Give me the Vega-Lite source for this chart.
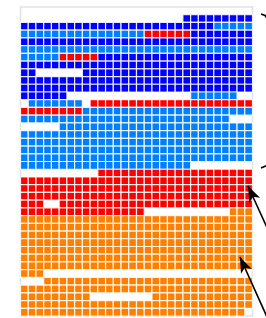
{
"$schema": "https://vega.github.io/schema/vega-lite/v6.json",
"width": 232, "height": 309,
"autosize": "none",
"padding": {"left": 20.5, "top": 7, "right": 13.5, "bottom": 2},
"background": "white",
"config": {"view": {"stroke": "#e2e2e2", "strokeWidth": 1.5}},
"datasets": {
"ann": [
{"g":"t","x":31.1,"y":0.91,"o":0},{"g":"t","x":31.62,"y":1.1,"o":1},{"g":"t","x":31.8,"y":1.35,"o":2},
{"g":"b","x":31.1,"y":20.84,"o":0},{"g":"b","x":31.8,"y":20.55,"o":1},
{"g":"a1","x":29.42,"y":23.17,"o":0},{"g":"a1","x":31.9,"y":28.6,"o":1},
{"g":"a2","x":28.38,"y":32.36,"o":0},{"g":"a2","x":31.95,"y":40.3,"o":1}
],
"heads": [
{"x":29.42,"y":23.17,"a":335},
{"x":28.38,"y":32.36,"a":336}
],
"cells": [
{"r":1,"c":21,"k":"a"},{"r":1,"c":22,"k":"a"},{"r":1,"c":23,"k":"a"},{"r":1,"c":24,"k":"a"},{"r":1,"c":25,"k":"a"},{"r":1,"c":26,"k":"a"},{"r":1,"c":27,"k":"a"},{"r":1,"c":28,"k":"a"},{"r":1,"c":29,"k":"a"},
{"r":2,"c":0,"k":"a"},{"r":2,"c":1,"k":"a"},{"r":2,"c":2,"k":"a"},{"r":2,"c":3,"k":"a"},{"r":2,"c":4,"k":"a"},{"r":2,"c":5,"k":"a"},{"r":2,"c":6,"k":"a"},{"r":2,"c":7,"k":"a"},{"r":2,"c":8,"k":"a"},{"r":2,"c":9,"k":"a"},{"r":2,"c":10,"k":"a"},{"r":2,"c":11,"k":"a"},{"r":2,"c":12,"k":"a"},{"r":2,"c":13,"k":"a"},{"r":2,"c":14,"k":"a"},{"r":2,"c":15,"k":"a"},{"r":2,"c":16,"k":"a"},{"r":2,"c":17,"k":"a"},{"r":2,"c":18,"k":"a"},{"r":2,"c":19,"k":"a"},{"r":2,"c":20,"k":"a"},{"r":2,"c":21,"k":"a"},{"r":2,"c":22,"k":"a"},{"r":2,"c":23,"k":"a"},{"r":2,"c":24,"k":"a"},{"r":2,"c":25,"k":"b"},{"r":2,"c":26,"k":"b"},{"r":2,"c":27,"k":"b"},{"r":2,"c":28,"k":"b"},{"r":2,"c":29,"k":"b"},
{"r":3,"c":0,"k":"b"},{"r":3,"c":1,"k":"b"},{"r":3,"c":2,"k":"b"},{"r":3,"c":3,"k":"b"},{"r":3,"c":4,"k":"b"},{"r":3,"c":5,"k":"b"},{"r":3,"c":6,"k":"b"},{"r":3,"c":7,"k":"b"},{"r":3,"c":8,"k":"b"},{"r":3,"c":9,"k":"b"},{"r":3,"c":10,"k":"b"},{"r":3,"c":11,"k":"b"},{"r":3,"c":12,"k":"b"},{"r":3,"c":13,"k":"b"},{"r":3,"c":14,"k":"b"},{"r":3,"c":15,"k":"b"},{"r":3,"c":16,"k":"c"},{"r":3,"c":17,"k":"c"},{"r":3,"c":18,"k":"c"},{"r":3,"c":19,"k":"c"},{"r":3,"c":20,"k":"c"},{"r":3,"c":21,"k":"c"},{"r":3,"c":22,"k":"a"},{"r":3,"c":23,"k":"a"},{"r":3,"c":24,"k":"a"},{"r":3,"c":25,"k":"a"},{"r":3,"c":26,"k":"a"},{"r":3,"c":27,"k":"a"},{"r":3,"c":28,"k":"a"},{"r":3,"c":29,"k":"a"},
{"r":4,"c":0,"k":"a"},{"r":4,"c":1,"k":"a"},{"r":4,"c":2,"k":"a"},{"r":4,"c":3,"k":"a"},{"r":4,"c":4,"k":"a"},{"r":4,"c":5,"k":"a"},{"r":4,"c":6,"k":"a"},{"r":4,"c":7,"k":"a"},{"r":4,"c":8,"k":"a"},{"r":4,"c":9,"k":"a"},{"r":4,"c":10,"k":"a"},{"r":4,"c":11,"k":"a"},{"r":4,"c":12,"k":"a"},{"r":4,"c":13,"k":"a"},{"r":4,"c":14,"k":"a"},{"r":4,"c":15,"k":"a"},{"r":4,"c":16,"k":"a"},{"r":4,"c":17,"k":"a"},{"r":4,"c":18,"k":"a"},{"r":4,"c":19,"k":"a"},{"r":4,"c":20,"k":"a"},{"r":4,"c":21,"k":"a"},{"r":4,"c":22,"k":"a"},{"r":4,"c":23,"k":"a"},{"r":4,"c":24,"k":"a"},{"r":4,"c":25,"k":"a"},{"r":4,"c":26,"k":"a"},{"r":4,"c":27,"k":"a"},{"r":4,"c":28,"k":"a"},{"r":4,"c":29,"k":"a"},
{"r":5,"c":0,"k":"b"},{"r":5,"c":1,"k":"b"},{"r":5,"c":2,"k":"b"},{"r":5,"c":3,"k":"b"},{"r":5,"c":4,"k":"b"},{"r":5,"c":5,"k":"b"},{"r":5,"c":6,"k":"b"},{"r":5,"c":7,"k":"b"},{"r":5,"c":8,"k":"b"},{"r":5,"c":9,"k":"b"},{"r":5,"c":10,"k":"b"},{"r":5,"c":11,"k":"b"},{"r":5,"c":12,"k":"b"},{"r":5,"c":13,"k":"b"},{"r":5,"c":14,"k":"b"},{"r":5,"c":15,"k":"b"},{"r":5,"c":16,"k":"b"},{"r":5,"c":17,"k":"b"},{"r":5,"c":18,"k":"b"},{"r":5,"c":19,"k":"b"},{"r":5,"c":20,"k":"b"},{"r":5,"c":21,"k":"b"},{"r":5,"c":22,"k":"b"},{"r":5,"c":23,"k":"b"},{"r":5,"c":24,"k":"b"},{"r":5,"c":25,"k":"b"},{"r":5,"c":26,"k":"b"},{"r":5,"c":27,"k":"b"},{"r":5,"c":28,"k":"b"},{"r":5,"c":29,"k":"b"},
{"r":6,"c":0,"k":"b"},{"r":6,"c":1,"k":"b"},{"r":6,"c":2,"k":"b"},{"r":6,"c":3,"k":"b"},{"r":6,"c":4,"k":"b"},{"r":6,"c":5,"k":"c"},{"r":6,"c":6,"k":"c"},{"r":6,"c":7,"k":"c"},{"r":6,"c":8,"k":"c"},{"r":6,"c":9,"k":"c"},{"r":6,"c":10,"k":"a"},{"r":6,"c":11,"k":"a"},{"r":6,"c":12,"k":"a"},{"r":6,"c":13,"k":"a"},{"r":6,"c":14,"k":"a"},{"r":6,"c":15,"k":"a"},{"r":6,"c":16,"k":"a"},{"r":6,"c":17,"k":"a"},{"r":6,"c":18,"k":"a"},{"r":6,"c":19,"k":"a"},{"r":6,"c":20,"k":"a"},{"r":6,"c":21,"k":"a"},{"r":6,"c":22,"k":"a"},{"r":6,"c":23,"k":"a"},{"r":6,"c":24,"k":"a"},{"r":6,"c":25,"k":"a"},{"r":6,"c":26,"k":"a"},{"r":6,"c":27,"k":"a"},{"r":6,"c":28,"k":"a"},{"r":6,"c":29,"k":"a"},
{"r":7,"c":0,"k":"a"},{"r":7,"c":1,"k":"a"},{"r":7,"c":2,"k":"a"},{"r":7,"c":3,"k":"a"},{"r":7,"c":4,"k":"a"},{"r":7,"c":5,"k":"a"},{"r":7,"c":6,"k":"a"},{"r":7,"c":7,"k":"a"},{"r":7,"c":8,"k":"a"},{"r":7,"c":9,"k":"a"},{"r":7,"c":10,"k":"a"},{"r":7,"c":11,"k":"a"},{"r":7,"c":12,"k":"a"},{"r":7,"c":13,"k":"a"},{"r":7,"c":14,"k":"a"},{"r":7,"c":15,"k":"a"},{"r":7,"c":16,"k":"a"},{"r":7,"c":17,"k":"a"},{"r":7,"c":18,"k":"a"},{"r":7,"c":19,"k":"a"},{"r":7,"c":20,"k":"a"},{"r":7,"c":21,"k":"a"},{"r":7,"c":22,"k":"a"},{"r":7,"c":23,"k":"a"},{"r":7,"c":24,"k":"a"},{"r":7,"c":25,"k":"a"},{"r":7,"c":26,"k":"a"},{"r":7,"c":27,"k":"a"},{"r":7,"c":28,"k":"a"},{"r":7,"c":29,"k":"a"},
{"r":8,"c":0,"k":"a"},{"r":8,"c":1,"k":"a"},{"r":8,"c":8,"k":"a"},{"r":8,"c":9,"k":"a"},{"r":8,"c":10,"k":"a"},{"r":8,"c":11,"k":"a"},{"r":8,"c":12,"k":"a"},{"r":8,"c":13,"k":"a"},{"r":8,"c":14,"k":"a"},{"r":8,"c":15,"k":"a"},{"r":8,"c":16,"k":"a"},{"r":8,"c":17,"k":"a"},{"r":8,"c":18,"k":"a"},{"r":8,"c":19,"k":"a"},{"r":8,"c":20,"k":"a"},{"r":8,"c":21,"k":"a"},{"r":8,"c":22,"k":"a"},{"r":8,"c":23,"k":"a"},{"r":8,"c":24,"k":"a"},{"r":8,"c":25,"k":"a"},{"r":8,"c":26,"k":"a"},{"r":8,"c":27,"k":"a"},{"r":8,"c":28,"k":"a"},{"r":8,"c":29,"k":"a"},
{"r":9,"c":0,"k":"a"},{"r":9,"c":1,"k":"a"},{"r":9,"c":2,"k":"a"},{"r":9,"c":3,"k":"a"},{"r":9,"c":4,"k":"a"},{"r":9,"c":5,"k":"a"},{"r":9,"c":6,"k":"a"},{"r":9,"c":7,"k":"a"},{"r":9,"c":8,"k":"a"},{"r":9,"c":9,"k":"a"},{"r":9,"c":10,"k":"a"},{"r":9,"c":11,"k":"a"},{"r":9,"c":12,"k":"a"},{"r":9,"c":13,"k":"a"},{"r":9,"c":14,"k":"a"},{"r":9,"c":15,"k":"a"},{"r":9,"c":16,"k":"a"},{"r":9,"c":17,"k":"a"},{"r":9,"c":18,"k":"a"},{"r":9,"c":19,"k":"a"},{"r":9,"c":20,"k":"a"},{"r":9,"c":21,"k":"a"},{"r":9,"c":22,"k":"a"},{"r":9,"c":23,"k":"a"},{"r":9,"c":24,"k":"a"},{"r":9,"c":25,"k":"a"},{"r":9,"c":26,"k":"a"},{"r":9,"c":27,"k":"a"},{"r":9,"c":28,"k":"a"},{"r":9,"c":29,"k":"a"},
{"r":10,"c":0,"k":"a"},{"r":10,"c":1,"k":"a"},{"r":10,"c":2,"k":"a"},{"r":10,"c":3,"k":"a"},{"r":10,"c":4,"k":"a"},{"r":10,"c":5,"k":"a"},{"r":10,"c":6,"k":"a"},{"r":10,"c":7,"k":"a"},{"r":10,"c":8,"k":"a"},{"r":10,"c":9,"k":"a"},{"r":10,"c":10,"k":"a"},{"r":10,"c":11,"k":"a"},{"r":10,"c":12,"k":"a"},{"r":10,"c":13,"k":"a"},{"r":10,"c":14,"k":"a"},{"r":10,"c":15,"k":"a"},{"r":10,"c":16,"k":"a"},{"r":10,"c":17,"k":"a"},{"r":10,"c":18,"k":"a"},{"r":10,"c":19,"k":"a"},{"r":10,"c":20,"k":"a"},{"r":10,"c":21,"k":"a"},{"r":10,"c":22,"k":"a"},{"r":10,"c":23,"k":"a"},{"r":10,"c":24,"k":"a"},{"r":10,"c":25,"k":"a"},{"r":10,"c":26,"k":"a"},{"r":10,"c":27,"k":"a"},{"r":10,"c":28,"k":"a"},{"r":10,"c":29,"k":"a"},
{"r":11,"c":0,"k":"a"},{"r":11,"c":1,"k":"a"},{"r":11,"c":2,"k":"a"},{"r":11,"c":3,"k":"a"},{"r":11,"c":4,"k":"a"},{"r":11,"c":5,"k":"a"},{"r":11,"c":22,"k":"b"},{"r":11,"c":23,"k":"b"},{"r":11,"c":24,"k":"b"},{"r":11,"c":25,"k":"b"},{"r":11,"c":26,"k":"b"},{"r":11,"c":27,"k":"b"},
{"r":12,"c":1,"k":"b"},{"r":12,"c":2,"k":"b"},{"r":12,"c":3,"k":"b"},{"r":12,"c":4,"k":"b"},{"r":12,"c":5,"k":"b"},{"r":12,"c":6,"k":"b"},{"r":12,"c":7,"k":"b"},{"r":12,"c":9,"k":"c"},{"r":12,"c":10,"k":"c"},{"r":12,"c":11,"k":"c"},{"r":12,"c":12,"k":"c"},{"r":12,"c":13,"k":"c"},{"r":12,"c":14,"k":"c"},{"r":12,"c":15,"k":"c"},{"r":12,"c":16,"k":"c"},{"r":12,"c":17,"k":"c"},{"r":12,"c":18,"k":"c"},{"r":12,"c":19,"k":"c"},{"r":12,"c":20,"k":"c"},{"r":12,"c":21,"k":"c"},{"r":12,"c":22,"k":"c"},{"r":12,"c":23,"k":"c"},{"r":12,"c":24,"k":"c"},{"r":12,"c":25,"k":"c"},{"r":12,"c":26,"k":"c"},{"r":12,"c":27,"k":"c"},{"r":12,"c":28,"k":"c"},{"r":12,"c":29,"k":"c"},
{"r":13,"c":0,"k":"c"},{"r":13,"c":1,"k":"c"},{"r":13,"c":2,"k":"c"},{"r":13,"c":3,"k":"c"},{"r":13,"c":4,"k":"c"},{"r":13,"c":5,"k":"c"},{"r":13,"c":6,"k":"c"},{"r":13,"c":7,"k":"c"},{"r":13,"c":8,"k":"b"},{"r":13,"c":9,"k":"b"},{"r":13,"c":10,"k":"b"},{"r":13,"c":11,"k":"b"},{"r":13,"c":12,"k":"b"},{"r":13,"c":13,"k":"b"},{"r":13,"c":14,"k":"b"},{"r":13,"c":15,"k":"b"},{"r":13,"c":16,"k":"b"},{"r":13,"c":17,"k":"b"},{"r":13,"c":18,"k":"b"},{"r":13,"c":19,"k":"b"},{"r":13,"c":20,"k":"b"},{"r":13,"c":21,"k":"b"},{"r":13,"c":22,"k":"b"},{"r":13,"c":23,"k":"b"},{"r":13,"c":24,"k":"b"},{"r":13,"c":25,"k":"b"},{"r":13,"c":26,"k":"b"},{"r":13,"c":27,"k":"b"},{"r":13,"c":28,"k":"b"},{"r":13,"c":29,"k":"b"},
{"r":14,"c":0,"k":"b"},{"r":14,"c":1,"k":"b"},{"r":14,"c":2,"k":"b"},{"r":14,"c":3,"k":"b"},{"r":14,"c":4,"k":"b"},{"r":14,"c":5,"k":"b"},{"r":14,"c":6,"k":"b"},{"r":14,"c":7,"k":"b"},{"r":14,"c":8,"k":"b"},{"r":14,"c":9,"k":"b"},{"r":14,"c":10,"k":"b"},{"r":14,"c":11,"k":"b"},{"r":14,"c":12,"k":"b"},{"r":14,"c":13,"k":"b"},{"r":14,"c":14,"k":"b"},{"r":14,"c":15,"k":"b"},{"r":14,"c":16,"k":"b"},{"r":14,"c":17,"k":"b"},{"r":14,"c":18,"k":"b"},{"r":14,"c":19,"k":"b"},{"r":14,"c":20,"k":"b"},{"r":14,"c":21,"k":"b"},{"r":14,"c":22,"k":"b"},{"r":14,"c":23,"k":"b"},{"r":14,"c":24,"k":"b"},{"r":14,"c":25,"k":"b"},{"r":14,"c":26,"k":"b"},
{"r":15,"c":5,"k":"b"},{"r":15,"c":6,"k":"b"},{"r":15,"c":7,"k":"b"},{"r":15,"c":8,"k":"b"},{"r":15,"c":9,"k":"b"},{"r":15,"c":10,"k":"b"},{"r":15,"c":11,"k":"b"},{"r":15,"c":12,"k":"b"},{"r":15,"c":13,"k":"b"},{"r":15,"c":14,"k":"b"},{"r":15,"c":15,"k":"b"},{"r":15,"c":16,"k":"b"},{"r":15,"c":17,"k":"b"},{"r":15,"c":18,"k":"b"},{"r":15,"c":19,"k":"b"},{"r":15,"c":20,"k":"b"},{"r":15,"c":21,"k":"b"},{"r":15,"c":22,"k":"b"},{"r":15,"c":23,"k":"b"},{"r":15,"c":24,"k":"b"},{"r":15,"c":25,"k":"b"},{"r":15,"c":26,"k":"b"},{"r":15,"c":27,"k":"b"},{"r":15,"c":28,"k":"b"},{"r":15,"c":29,"k":"b"},
{"r":16,"c":0,"k":"b"},{"r":16,"c":1,"k":"b"},{"r":16,"c":2,"k":"b"},{"r":16,"c":3,"k":"b"},{"r":16,"c":4,"k":"b"},{"r":16,"c":5,"k":"b"},{"r":16,"c":6,"k":"b"},{"r":16,"c":7,"k":"b"},{"r":16,"c":8,"k":"b"},{"r":16,"c":9,"k":"b"},{"r":16,"c":10,"k":"b"},{"r":16,"c":11,"k":"b"},{"r":16,"c":12,"k":"b"},{"r":16,"c":13,"k":"b"},{"r":16,"c":14,"k":"b"},{"r":16,"c":15,"k":"b"},{"r":16,"c":16,"k":"b"},{"r":16,"c":17,"k":"b"},{"r":16,"c":18,"k":"b"},{"r":16,"c":19,"k":"b"},{"r":16,"c":20,"k":"b"},{"r":16,"c":21,"k":"b"},{"r":16,"c":22,"k":"b"},{"r":16,"c":23,"k":"b"},{"r":16,"c":24,"k":"b"},{"r":16,"c":25,"k":"b"},{"r":16,"c":26,"k":"b"},{"r":16,"c":27,"k":"b"},{"r":16,"c":28,"k":"b"},{"r":16,"c":29,"k":"b"},
{"r":17,"c":0,"k":"b"},{"r":17,"c":1,"k":"b"},{"r":17,"c":2,"k":"b"},{"r":17,"c":3,"k":"b"},{"r":17,"c":4,"k":"b"},{"r":17,"c":5,"k":"b"},{"r":17,"c":6,"k":"b"},{"r":17,"c":7,"k":"b"},{"r":17,"c":8,"k":"b"},{"r":17,"c":9,"k":"b"},{"r":17,"c":10,"k":"b"},{"r":17,"c":11,"k":"b"},{"r":17,"c":12,"k":"b"},{"r":17,"c":13,"k":"b"},{"r":17,"c":14,"k":"b"},{"r":17,"c":15,"k":"b"},{"r":17,"c":16,"k":"b"},{"r":17,"c":17,"k":"b"},{"r":17,"c":18,"k":"b"},{"r":17,"c":19,"k":"b"},{"r":17,"c":20,"k":"b"},{"r":17,"c":21,"k":"b"},{"r":17,"c":22,"k":"b"},{"r":17,"c":23,"k":"b"},{"r":17,"c":24,"k":"b"},{"r":17,"c":25,"k":"b"},{"r":17,"c":26,"k":"b"},{"r":17,"c":27,"k":"b"},{"r":17,"c":28,"k":"b"},{"r":17,"c":29,"k":"b"},
{"r":18,"c":0,"k":"b"},{"r":18,"c":1,"k":"b"},{"r":18,"c":2,"k":"b"},{"r":18,"c":3,"k":"b"},{"r":18,"c":4,"k":"b"},{"r":18,"c":5,"k":"b"},{"r":18,"c":6,"k":"b"},{"r":18,"c":7,"k":"b"},{"r":18,"c":8,"k":"b"},{"r":18,"c":9,"k":"b"},{"r":18,"c":10,"k":"b"},{"r":18,"c":11,"k":"b"},{"r":18,"c":12,"k":"b"},{"r":18,"c":13,"k":"b"},{"r":18,"c":14,"k":"b"},{"r":18,"c":15,"k":"b"},{"r":18,"c":16,"k":"b"},{"r":18,"c":17,"k":"b"},{"r":18,"c":18,"k":"b"},{"r":18,"c":19,"k":"b"},{"r":18,"c":20,"k":"b"},{"r":18,"c":21,"k":"b"},{"r":18,"c":22,"k":"b"},{"r":18,"c":23,"k":"b"},{"r":18,"c":24,"k":"b"},{"r":18,"c":25,"k":"b"},{"r":18,"c":26,"k":"b"},{"r":18,"c":27,"k":"b"},{"r":18,"c":28,"k":"b"},{"r":18,"c":29,"k":"b"},
{"r":19,"c":0,"k":"b"},{"r":19,"c":1,"k":"b"},{"r":19,"c":2,"k":"b"},{"r":19,"c":3,"k":"b"},{"r":19,"c":4,"k":"b"},{"r":19,"c":5,"k":"b"},{"r":19,"c":6,"k":"b"},{"r":19,"c":7,"k":"b"},{"r":19,"c":8,"k":"b"},{"r":19,"c":9,"k":"b"},{"r":19,"c":10,"k":"b"},{"r":19,"c":11,"k":"b"},{"r":19,"c":12,"k":"b"},{"r":19,"c":13,"k":"b"},{"r":19,"c":14,"k":"b"},{"r":19,"c":15,"k":"b"},{"r":19,"c":16,"k":"b"},{"r":19,"c":17,"k":"b"},{"r":19,"c":18,"k":"b"},{"r":19,"c":19,"k":"b"},{"r":19,"c":20,"k":"b"},{"r":19,"c":21,"k":"b"},{"r":19,"c":22,"k":"b"},{"r":19,"c":23,"k":"b"},{"r":19,"c":24,"k":"b"},{"r":19,"c":25,"k":"b"},{"r":19,"c":26,"k":"b"},{"r":19,"c":27,"k":"b"},{"r":19,"c":28,"k":"b"},{"r":19,"c":29,"k":"b"},
{"r":20,"c":0,"k":"b"},{"r":20,"c":1,"k":"b"},{"r":20,"c":2,"k":"b"},{"r":20,"c":3,"k":"b"},{"r":20,"c":4,"k":"b"},{"r":20,"c":5,"k":"b"},{"r":20,"c":6,"k":"b"},{"r":20,"c":7,"k":"b"},{"r":20,"c":8,"k":"b"},{"r":20,"c":9,"k":"b"},{"r":20,"c":10,"k":"b"},{"r":20,"c":11,"k":"b"},{"r":20,"c":12,"k":"b"},{"r":20,"c":13,"k":"b"},{"r":20,"c":14,"k":"b"},{"r":20,"c":15,"k":"b"},{"r":20,"c":16,"k":"b"},{"r":20,"c":17,"k":"b"},{"r":20,"c":18,"k":"b"},{"r":20,"c":19,"k":"b"},{"r":20,"c":20,"k":"b"},{"r":20,"c":21,"k":"b"},
{"r":21,"c":10,"k":"c"},{"r":21,"c":11,"k":"c"},{"r":21,"c":12,"k":"c"},{"r":21,"c":13,"k":"c"},{"r":21,"c":14,"k":"c"},{"r":21,"c":15,"k":"c"},{"r":21,"c":16,"k":"c"},{"r":21,"c":17,"k":"c"},{"r":21,"c":18,"k":"c"},{"r":21,"c":19,"k":"c"},{"r":21,"c":20,"k":"c"},{"r":21,"c":21,"k":"c"},{"r":21,"c":22,"k":"c"},{"r":21,"c":23,"k":"c"},{"r":21,"c":24,"k":"c"},{"r":21,"c":25,"k":"c"},{"r":21,"c":26,"k":"c"},{"r":21,"c":27,"k":"c"},{"r":21,"c":28,"k":"c"},{"r":21,"c":29,"k":"c"},
{"r":22,"c":0,"k":"c"},{"r":22,"c":1,"k":"c"},{"r":22,"c":2,"k":"c"},{"r":22,"c":3,"k":"c"},{"r":22,"c":4,"k":"c"},{"r":22,"c":5,"k":"c"},{"r":22,"c":6,"k":"c"},{"r":22,"c":7,"k":"c"},{"r":22,"c":8,"k":"c"},{"r":22,"c":9,"k":"c"},{"r":22,"c":10,"k":"c"},{"r":22,"c":11,"k":"c"},{"r":22,"c":12,"k":"c"},{"r":22,"c":13,"k":"c"},{"r":22,"c":14,"k":"c"},{"r":22,"c":15,"k":"c"},{"r":22,"c":16,"k":"c"},{"r":22,"c":17,"k":"c"},{"r":22,"c":18,"k":"c"},{"r":22,"c":19,"k":"c"},{"r":22,"c":20,"k":"c"},{"r":22,"c":21,"k":"c"},{"r":22,"c":22,"k":"c"},{"r":22,"c":23,"k":"c"},{"r":22,"c":24,"k":"c"},{"r":22,"c":25,"k":"c"},{"r":22,"c":26,"k":"c"},{"r":22,"c":27,"k":"c"},{"r":22,"c":28,"k":"c"},{"r":22,"c":29,"k":"c"},
{"r":23,"c":0,"k":"c"},{"r":23,"c":1,"k":"c"},{"r":23,"c":2,"k":"c"},{"r":23,"c":3,"k":"c"},{"r":23,"c":4,"k":"c"},{"r":23,"c":5,"k":"c"},{"r":23,"c":6,"k":"c"},{"r":23,"c":7,"k":"c"},{"r":23,"c":8,"k":"c"},{"r":23,"c":9,"k":"c"},{"r":23,"c":10,"k":"c"},{"r":23,"c":11,"k":"c"},{"r":23,"c":12,"k":"c"},{"r":23,"c":13,"k":"c"},{"r":23,"c":14,"k":"c"},{"r":23,"c":15,"k":"c"},{"r":23,"c":16,"k":"c"},{"r":23,"c":17,"k":"c"},{"r":23,"c":18,"k":"c"},{"r":23,"c":19,"k":"c"},{"r":23,"c":20,"k":"c"},{"r":23,"c":21,"k":"c"},{"r":23,"c":22,"k":"c"},{"r":23,"c":23,"k":"c"},{"r":23,"c":24,"k":"c"},{"r":23,"c":25,"k":"c"},{"r":23,"c":26,"k":"c"},{"r":23,"c":27,"k":"c"},{"r":23,"c":28,"k":"c"},{"r":23,"c":29,"k":"c"},
{"r":24,"c":0,"k":"c"},{"r":24,"c":1,"k":"c"},{"r":24,"c":2,"k":"c"},{"r":24,"c":3,"k":"c"},{"r":24,"c":4,"k":"c"},{"r":24,"c":5,"k":"c"},{"r":24,"c":6,"k":"c"},{"r":24,"c":7,"k":"c"},{"r":24,"c":8,"k":"c"},{"r":24,"c":9,"k":"c"},{"r":24,"c":10,"k":"c"},{"r":24,"c":11,"k":"c"},{"r":24,"c":12,"k":"c"},{"r":24,"c":13,"k":"c"},{"r":24,"c":14,"k":"c"},{"r":24,"c":15,"k":"c"},{"r":24,"c":16,"k":"c"},{"r":24,"c":17,"k":"c"},{"r":24,"c":18,"k":"c"},{"r":24,"c":19,"k":"c"},{"r":24,"c":20,"k":"c"},{"r":24,"c":21,"k":"c"},{"r":24,"c":22,"k":"c"},{"r":24,"c":23,"k":"c"},{"r":24,"c":24,"k":"c"},{"r":24,"c":25,"k":"c"},{"r":24,"c":26,"k":"c"},{"r":24,"c":27,"k":"c"},{"r":24,"c":28,"k":"c"},{"r":24,"c":29,"k":"c"},
{"r":25,"c":0,"k":"c"},{"r":25,"c":1,"k":"c"},{"r":25,"c":2,"k":"c"},{"r":25,"c":5,"k":"c"},{"r":25,"c":6,"k":"c"},{"r":25,"c":7,"k":"c"},{"r":25,"c":8,"k":"c"},{"r":25,"c":9,"k":"c"},{"r":25,"c":10,"k":"c"},{"r":25,"c":11,"k":"c"},{"r":25,"c":12,"k":"c"},{"r":25,"c":13,"k":"c"},{"r":25,"c":14,"k":"c"},{"r":25,"c":15,"k":"c"},{"r":25,"c":16,"k":"c"},{"r":25,"c":17,"k":"c"},{"r":25,"c":18,"k":"c"},{"r":25,"c":19,"k":"c"},{"r":25,"c":20,"k":"c"},{"r":25,"c":21,"k":"c"},{"r":25,"c":22,"k":"c"},{"r":25,"c":23,"k":"c"},{"r":25,"c":24,"k":"c"},{"r":25,"c":25,"k":"c"},{"r":25,"c":26,"k":"c"},{"r":25,"c":27,"k":"c"},{"r":25,"c":28,"k":"c"},{"r":25,"c":29,"k":"c"},
{"r":26,"c":0,"k":"c"},{"r":26,"c":1,"k":"c"},{"r":26,"c":2,"k":"c"},{"r":26,"c":3,"k":"c"},{"r":26,"c":4,"k":"c"},{"r":26,"c":5,"k":"c"},{"r":26,"c":6,"k":"c"},{"r":26,"c":7,"k":"c"},{"r":26,"c":8,"k":"c"},{"r":26,"c":9,"k":"c"},{"r":26,"c":10,"k":"c"},{"r":26,"c":11,"k":"c"},{"r":26,"c":12,"k":"c"},{"r":26,"c":13,"k":"c"},{"r":26,"c":14,"k":"c"},{"r":26,"c":15,"k":"c"},{"r":26,"c":27,"k":"d"},{"r":26,"c":28,"k":"d"},{"r":26,"c":29,"k":"d"},
{"r":27,"c":0,"k":"d"},{"r":27,"c":1,"k":"d"},{"r":27,"c":2,"k":"d"},{"r":27,"c":3,"k":"d"},{"r":27,"c":4,"k":"d"},{"r":27,"c":5,"k":"d"},{"r":27,"c":6,"k":"d"},{"r":27,"c":7,"k":"d"},{"r":27,"c":8,"k":"d"},{"r":27,"c":9,"k":"d"},{"r":27,"c":10,"k":"d"},{"r":27,"c":11,"k":"d"},{"r":27,"c":12,"k":"d"},{"r":27,"c":13,"k":"d"},{"r":27,"c":14,"k":"d"},{"r":27,"c":15,"k":"d"},{"r":27,"c":16,"k":"d"},{"r":27,"c":17,"k":"d"},{"r":27,"c":18,"k":"d"},{"r":27,"c":19,"k":"d"},{"r":27,"c":20,"k":"d"},{"r":27,"c":21,"k":"d"},{"r":27,"c":22,"k":"d"},{"r":27,"c":23,"k":"d"},{"r":27,"c":24,"k":"d"},{"r":27,"c":25,"k":"d"},{"r":27,"c":26,"k":"d"},{"r":27,"c":27,"k":"d"},{"r":27,"c":28,"k":"d"},{"r":27,"c":29,"k":"d"},
{"r":28,"c":0,"k":"d"},{"r":28,"c":1,"k":"d"},{"r":28,"c":2,"k":"d"},{"r":28,"c":3,"k":"d"},{"r":28,"c":4,"k":"d"},{"r":28,"c":5,"k":"d"},{"r":28,"c":6,"k":"d"},{"r":28,"c":7,"k":"d"},{"r":28,"c":8,"k":"d"},{"r":28,"c":9,"k":"d"},{"r":28,"c":10,"k":"d"},{"r":28,"c":11,"k":"d"},{"r":28,"c":12,"k":"d"},{"r":28,"c":13,"k":"d"},{"r":28,"c":14,"k":"d"},{"r":28,"c":15,"k":"d"},{"r":28,"c":16,"k":"d"},{"r":28,"c":17,"k":"d"},{"r":28,"c":18,"k":"d"},{"r":28,"c":19,"k":"d"},{"r":28,"c":20,"k":"d"},{"r":28,"c":21,"k":"d"},{"r":28,"c":22,"k":"d"},{"r":28,"c":23,"k":"d"},{"r":28,"c":24,"k":"d"},{"r":28,"c":25,"k":"d"},{"r":28,"c":26,"k":"d"},{"r":28,"c":27,"k":"d"},{"r":28,"c":28,"k":"d"},{"r":28,"c":29,"k":"d"},
{"r":29,"c":0,"k":"d"},{"r":29,"c":1,"k":"d"},{"r":29,"c":2,"k":"d"},{"r":29,"c":3,"k":"d"},{"r":29,"c":4,"k":"d"},{"r":29,"c":5,"k":"d"},{"r":29,"c":6,"k":"d"},{"r":29,"c":7,"k":"d"},{"r":29,"c":8,"k":"d"},{"r":29,"c":9,"k":"d"},{"r":29,"c":10,"k":"d"},{"r":29,"c":11,"k":"d"},{"r":29,"c":12,"k":"d"},{"r":29,"c":13,"k":"d"},{"r":29,"c":14,"k":"d"},{"r":29,"c":15,"k":"d"},{"r":29,"c":16,"k":"d"},{"r":29,"c":17,"k":"d"},{"r":29,"c":18,"k":"d"},{"r":29,"c":19,"k":"d"},{"r":29,"c":20,"k":"d"},{"r":29,"c":21,"k":"d"},{"r":29,"c":22,"k":"d"},{"r":29,"c":23,"k":"d"},{"r":29,"c":24,"k":"d"},{"r":29,"c":25,"k":"d"},{"r":29,"c":26,"k":"d"},{"r":29,"c":27,"k":"d"},{"r":29,"c":28,"k":"d"},{"r":29,"c":29,"k":"d"},
{"r":30,"c":0,"k":"d"},{"r":30,"c":1,"k":"d"},{"r":30,"c":2,"k":"d"},{"r":30,"c":3,"k":"d"},{"r":30,"c":4,"k":"d"},{"r":30,"c":5,"k":"d"},{"r":30,"c":6,"k":"d"},{"r":30,"c":7,"k":"d"},{"r":30,"c":8,"k":"d"},{"r":30,"c":9,"k":"d"},{"r":30,"c":10,"k":"d"},{"r":30,"c":11,"k":"d"},{"r":30,"c":12,"k":"d"},{"r":30,"c":13,"k":"d"},{"r":30,"c":14,"k":"d"},{"r":30,"c":15,"k":"d"},{"r":30,"c":16,"k":"d"},{"r":30,"c":17,"k":"d"},{"r":30,"c":18,"k":"d"},{"r":30,"c":19,"k":"d"},{"r":30,"c":20,"k":"d"},{"r":30,"c":21,"k":"d"},{"r":30,"c":22,"k":"d"},{"r":30,"c":23,"k":"d"},{"r":30,"c":24,"k":"d"},{"r":30,"c":25,"k":"d"},{"r":30,"c":26,"k":"d"},{"r":30,"c":27,"k":"d"},{"r":30,"c":28,"k":"d"},{"r":30,"c":29,"k":"d"},
{"r":31,"c":0,"k":"d"},{"r":31,"c":1,"k":"d"},{"r":31,"c":2,"k":"d"},{"r":31,"c":3,"k":"d"},{"r":31,"c":4,"k":"d"},{"r":31,"c":5,"k":"d"},{"r":31,"c":6,"k":"d"},{"r":31,"c":7,"k":"d"},{"r":31,"c":8,"k":"d"},{"r":31,"c":9,"k":"d"},{"r":31,"c":10,"k":"d"},{"r":31,"c":11,"k":"d"},{"r":31,"c":12,"k":"d"},{"r":31,"c":13,"k":"d"},{"r":31,"c":14,"k":"d"},{"r":31,"c":15,"k":"d"},{"r":31,"c":16,"k":"d"},{"r":31,"c":17,"k":"d"},{"r":31,"c":18,"k":"d"},{"r":31,"c":19,"k":"d"},{"r":31,"c":20,"k":"d"},{"r":31,"c":21,"k":"d"},{"r":31,"c":22,"k":"d"},{"r":31,"c":23,"k":"d"},{"r":31,"c":24,"k":"d"},{"r":31,"c":25,"k":"d"},{"r":31,"c":26,"k":"d"},{"r":31,"c":27,"k":"d"},{"r":31,"c":28,"k":"d"},{"r":31,"c":29,"k":"d"},
{"r":32,"c":0,"k":"d"},{"r":32,"c":1,"k":"d"},{"r":32,"c":2,"k":"d"},{"r":32,"c":3,"k":"d"},{"r":32,"c":4,"k":"d"},{"r":32,"c":5,"k":"d"},{"r":32,"c":6,"k":"d"},{"r":32,"c":7,"k":"d"},{"r":32,"c":8,"k":"d"},{"r":32,"c":9,"k":"d"},{"r":32,"c":10,"k":"d"},{"r":32,"c":11,"k":"d"},{"r":32,"c":12,"k":"d"},{"r":32,"c":13,"k":"d"},{"r":32,"c":14,"k":"d"},{"r":32,"c":15,"k":"d"},{"r":32,"c":16,"k":"d"},{"r":32,"c":17,"k":"d"},{"r":32,"c":18,"k":"d"},{"r":32,"c":19,"k":"d"},{"r":32,"c":20,"k":"d"},{"r":32,"c":21,"k":"d"},{"r":32,"c":22,"k":"d"},{"r":32,"c":23,"k":"d"},{"r":32,"c":24,"k":"d"},{"r":32,"c":25,"k":"d"},{"r":32,"c":26,"k":"d"},{"r":32,"c":27,"k":"d"},{"r":32,"c":28,"k":"d"},{"r":32,"c":29,"k":"d"},
{"r":33,"c":0,"k":"d"},{"r":33,"c":1,"k":"d"},{"r":33,"c":2,"k":"d"},{"r":33,"c":3,"k":"d"},{"r":33,"c":4,"k":"d"},{"r":33,"c":5,"k":"d"},{"r":33,"c":6,"k":"d"},{"r":33,"c":7,"k":"d"},{"r":33,"c":8,"k":"d"},{"r":33,"c":9,"k":"d"},{"r":33,"c":10,"k":"d"},{"r":33,"c":11,"k":"d"},{"r":33,"c":12,"k":"d"},{"r":33,"c":13,"k":"d"},{"r":33,"c":14,"k":"d"},{"r":33,"c":15,"k":"d"},{"r":33,"c":16,"k":"d"},{"r":33,"c":17,"k":"d"},{"r":33,"c":18,"k":"d"},{"r":33,"c":19,"k":"d"},{"r":33,"c":20,"k":"d"},{"r":33,"c":21,"k":"d"},{"r":33,"c":22,"k":"d"},{"r":33,"c":23,"k":"d"},{"r":33,"c":24,"k":"d"},{"r":33,"c":25,"k":"d"},{"r":33,"c":26,"k":"d"},{"r":33,"c":27,"k":"d"},{"r":33,"c":28,"k":"d"},{"r":33,"c":29,"k":"d"},
{"r":34,"c":0,"k":"d"},{"r":34,"c":1,"k":"d"},{"r":34,"c":2,"k":"d"},
{"r":35,"c":3,"k":"d"},{"r":35,"c":4,"k":"d"},{"r":35,"c":5,"k":"d"},{"r":35,"c":6,"k":"d"},{"r":35,"c":7,"k":"d"},{"r":35,"c":8,"k":"d"},{"r":35,"c":9,"k":"d"},{"r":35,"c":10,"k":"d"},{"r":35,"c":11,"k":"d"},{"r":35,"c":12,"k":"d"},{"r":35,"c":13,"k":"d"},{"r":35,"c":14,"k":"d"},{"r":35,"c":15,"k":"d"},{"r":35,"c":16,"k":"d"},{"r":35,"c":17,"k":"d"},{"r":35,"c":18,"k":"d"},{"r":35,"c":19,"k":"d"},{"r":35,"c":20,"k":"d"},{"r":35,"c":21,"k":"d"},{"r":35,"c":22,"k":"d"},{"r":35,"c":23,"k":"d"},{"r":35,"c":24,"k":"d"},{"r":35,"c":25,"k":"d"},{"r":35,"c":26,"k":"d"},{"r":35,"c":27,"k":"d"},{"r":35,"c":28,"k":"d"},{"r":35,"c":29,"k":"d"},
{"r":36,"c":0,"k":"d"},{"r":36,"c":1,"k":"d"},{"r":36,"c":2,"k":"d"},{"r":36,"c":3,"k":"d"},{"r":36,"c":4,"k":"d"},{"r":36,"c":5,"k":"d"},{"r":36,"c":6,"k":"d"},{"r":36,"c":7,"k":"d"},{"r":36,"c":8,"k":"d"},{"r":36,"c":9,"k":"d"},{"r":36,"c":10,"k":"d"},{"r":36,"c":11,"k":"d"},{"r":36,"c":12,"k":"d"},{"r":36,"c":13,"k":"d"},{"r":36,"c":14,"k":"d"},{"r":36,"c":15,"k":"d"},{"r":36,"c":16,"k":"d"},{"r":36,"c":17,"k":"d"},{"r":36,"c":18,"k":"d"},{"r":36,"c":19,"k":"d"},{"r":36,"c":20,"k":"d"},{"r":36,"c":21,"k":"d"},{"r":36,"c":22,"k":"d"},{"r":36,"c":23,"k":"d"},{"r":36,"c":24,"k":"d"},{"r":36,"c":25,"k":"d"},{"r":36,"c":26,"k":"d"},{"r":36,"c":27,"k":"d"},{"r":36,"c":28,"k":"d"},{"r":36,"c":29,"k":"d"},
{"r":37,"c":0,"k":"d"},{"r":37,"c":1,"k":"d"},{"r":37,"c":2,"k":"d"},{"r":37,"c":3,"k":"d"},{"r":37,"c":4,"k":"d"},{"r":37,"c":5,"k":"d"},{"r":37,"c":6,"k":"d"},{"r":37,"c":7,"k":"d"},{"r":37,"c":8,"k":"d"},{"r":37,"c":17,"k":"d"},{"r":37,"c":18,"k":"d"},{"r":37,"c":19,"k":"d"},{"r":37,"c":20,"k":"d"},{"r":37,"c":21,"k":"d"},{"r":37,"c":22,"k":"d"},{"r":37,"c":23,"k":"d"},{"r":37,"c":24,"k":"d"},{"r":37,"c":25,"k":"d"},{"r":37,"c":26,"k":"d"},{"r":37,"c":27,"k":"d"},{"r":37,"c":28,"k":"d"},{"r":37,"c":29,"k":"d"},
{"r":38,"c":0,"k":"d"},{"r":38,"c":1,"k":"d"},{"r":38,"c":2,"k":"d"},{"r":38,"c":3,"k":"d"},{"r":38,"c":4,"k":"d"},{"r":38,"c":5,"k":"d"},{"r":38,"c":6,"k":"d"},{"r":38,"c":7,"k":"d"},{"r":38,"c":8,"k":"d"},{"r":38,"c":9,"k":"d"},{"r":38,"c":10,"k":"d"},{"r":38,"c":11,"k":"d"},{"r":38,"c":12,"k":"d"},{"r":38,"c":13,"k":"d"},{"r":38,"c":14,"k":"d"},{"r":38,"c":15,"k":"d"},{"r":38,"c":16,"k":"d"},{"r":38,"c":17,"k":"d"},{"r":38,"c":18,"k":"d"},{"r":38,"c":19,"k":"d"},{"r":38,"c":20,"k":"d"},{"r":38,"c":21,"k":"d"},{"r":38,"c":22,"k":"d"},{"r":38,"c":23,"k":"d"},{"r":38,"c":24,"k":"d"},{"r":38,"c":25,"k":"d"},{"r":38,"c":26,"k":"d"},{"r":38,"c":27,"k":"d"},{"r":38,"c":28,"k":"d"},{"r":38,"c":29,"k":"d"},
{"r":39,"c":0,"k":"d"},{"r":39,"c":1,"k":"d"},{"r":39,"c":2,"k":"d"},{"r":39,"c":3,"k":"d"},{"r":39,"c":4,"k":"d"},{"r":39,"c":5,"k":"d"},{"r":39,"c":6,"k":"d"},{"r":39,"c":7,"k":"d"},{"r":39,"c":8,"k":"d"},{"r":39,"c":9,"k":"d"},{"r":39,"c":10,"k":"d"},{"r":39,"c":11,"k":"d"},{"r":39,"c":12,"k":"d"},{"r":39,"c":13,"k":"d"},{"r":39,"c":14,"k":"d"},{"r":39,"c":15,"k":"d"},{"r":39,"c":16,"k":"d"},{"r":39,"c":17,"k":"d"},{"r":39,"c":18,"k":"d"},{"r":39,"c":19,"k":"d"},{"r":39,"c":20,"k":"d"},{"r":39,"c":21,"k":"d"},{"r":39,"c":22,"k":"d"},{"r":39,"c":23,"k":"d"},{"r":39,"c":24,"k":"d"},{"r":39,"c":25,"k":"d"},{"r":39,"c":26,"k":"d"},{"r":39,"c":27,"k":"d"},{"r":39,"c":28,"k":"d"}
]
},
"layer": [
{
"data": {"name": "cells"},
"mark": {"type": "rect", "stroke": "white", "strokeWidth": 1.2, "strokeOpacity": 0.85},
"encoding": {
"x": {"field": "c", "type": "ordinal", "axis": null,
"scale": {"domain": [0,1,2,3,4,5,6,7,8,9,10,11,12,13,14,15,16,17,18,19,20,21,22,23,24,25,26,27,28,29], "paddingInner": 0, "paddingOuter": 0}},
"y": {"field": "r", "type": "ordinal", "axis": null,
"scale": {"domain": [0,1,2,3,4,5,6,7,8,9,10,11,12,13,14,15,16,17,18,19,20,21,22,23,24,25,26,27,28,29,30,31,32,33,34,35,36,37,38,39], "paddingInner": 0, "paddingOuter": 0}},
"color": {"field": "k", "type": "nominal", "legend": null,
"scale": {"domain": ["a","b","c","d"], "range": ["#0000ff","#0080ff","#ff0000","#ff8000"]}}
}
},
{
"data": {"name": "ann"},
"mark": {"type": "line", "color": "black", "strokeWidth": 1.6, "clip": false},
"encoding": {
"x": {"field": "x", "type": "quantitative", "axis": null, "scale": {"domain": [0,30], "nice": false, "zero": false}},
"y": {"field": "y", "type": "quantitative", "axis": null, "scale": {"domain": [0,40], "nice": false, "zero": false, "reverse": true}},
"detail": {"field": "g"},
"order": {"field": "o"}
}
},
{
"data": {"name": "heads"},
"mark": {"type": "point", "shape": "M0,0L0.75,2L0,1.5L-0.75,2Z", "filled": true, "color": "black", "opacity": 1, "size": 250, "clip": false},
"encoding": {
"x": {"field": "x", "type": "quantitative", "axis": null, "scale": {"domain": [0,30], "nice": false, "zero": false}},
"y": {"field": "y", "type": "quantitative", "axis": null, "scale": {"domain": [0,40], "nice": false, "zero": false, "reverse": true}},
"angle": {"field": "a", "type": "quantitative", "scale": null}
}
}
],
"resolve": {"scale": {"x": "independent", "y": "independent"}}
}
